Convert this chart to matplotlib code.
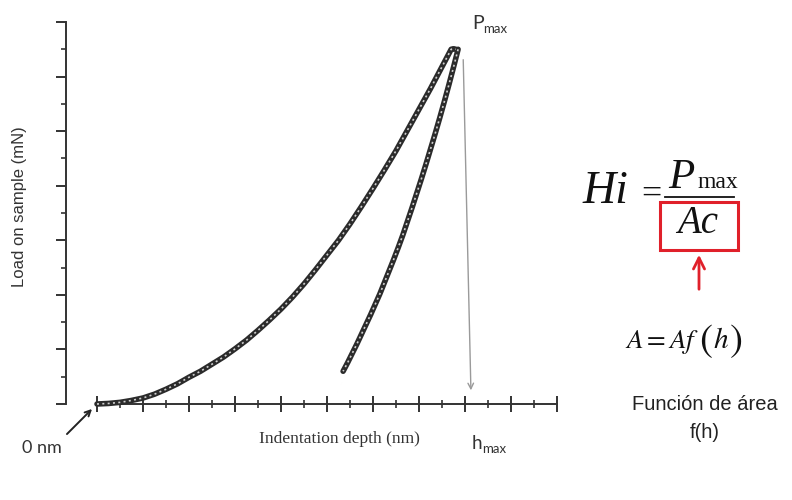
import matplotlib.pyplot as plt
import matplotlib.patches as mpatches
from matplotlib.lines import Line2D
import numpy as np

# curva de carga (profundidad, carga) - unidades de las divisiones del eje
carga_h = [0, 2.5, 5, 7.5, 10, 12.5, 15, 17.5, 20, 22.5, 25, 27.5, 30, 32.5, 35, 37.5,
           40, 42.5, 45, 47.5, 50, 52.5, 55, 57.5, 60, 62.5, 65, 67.5, 70, 72.5, 75, 77,
           77.5, 78.0]
carga_P = [0, 0.1, 0.3, 0.65, 1.1, 1.8, 2.7, 3.7, 4.9, 6.0, 7.3, 8.6, 10.1, 11.7, 13.5, 15.4,
           17.4, 19.6, 22.0, 24.6, 27.3, 30.0, 33.0, 36.2, 39.5, 42.9, 46.4, 50.2, 54.0, 57.8, 61.8, 65.0,
           65.1, 65.0]

# curva de descarga
descarga_h = [78.5, 77.5, 76.5, 75.5, 74.5, 73.5, 72.5, 71.5, 70.5, 69.5, 68.5, 67.5, 66.5,
              65.5, 64.5, 63.5, 62.5, 61.5, 60.5, 59.5, 58.5, 57.5, 56.5, 55.5, 54.5, 53.5]
descarga_P = [65.0, 61.7, 58.5, 55.4, 52.4, 49.5, 46.7, 43.9, 41.2, 38.6, 36.0, 33.5, 31.0,
              28.7, 26.5, 24.4, 22.3, 20.2, 18.3, 16.4, 14.6, 12.8, 11.0, 9.3, 7.6, 6.0]

h_max = 81.3
P_max = max(carga_P)

W, H = 792, 500
plt.rcParams['mathtext.fontset'] = 'stix'


def px(x, y):
    # pixeles -> fraccion de figura
    return x / W, 1 - y / H


fig = plt.figure(figsize=(W / 100, H / 100), dpi=100)
ax = fig.add_axes([66 / W, (H - 404) / H, (557 - 66) / W, (404 - 22) / H])
ax.set_xlim(-(97 - 66) / 4.6, 100)
ax.set_ylim(0, 70)

gris = '#333333'
for s in ['top', 'right']:
    ax.spines[s].set_visible(False)
ax.spines['left'].set_bounds(0, 70)
ax.spines['bottom'].set_bounds(0, 100)
for s in ['left', 'bottom']:
    ax.spines[s].set_linewidth(1.4)
    ax.spines[s].set_color(gris)

ax.set_xticks(np.arange(0, 101, 10))
ax.set_xticks(np.arange(5, 100, 10), minor=True)
ax.set_yticks(np.arange(0, 71, 10))
ax.set_yticks(np.arange(5, 70, 10), minor=True)
ax.set_xticklabels([])
ax.set_yticklabels([])
ax.tick_params(axis='x', which='major', direction='inout', length=11, width=1.4, color=gris)
ax.tick_params(axis='x', which='minor', direction='inout', length=6, width=1.2, color=gris)
ax.tick_params(axis='y', which='major', direction='out', length=7, width=1.4, color=gris)
ax.tick_params(axis='y', which='minor', direction='out', length=3.5, width=1.2, color=gris)

# cadena de marcadores: banda oscura con centros claros
for hh, pp in [(carga_h, carga_P), (descarga_h, descarga_P)]:
    ax.plot(hh, pp, color='#2b2b2b', lw=4.0, solid_capstyle='round', solid_joinstyle='round',
            clip_on=False, zorder=3)
    ax.plot(hh, pp, color='#cfcfcf', lw=1.2, dashes=(1.2, 2.0), clip_on=False, zorder=4)

# flecha gris hasta h_max
ax.annotate('', xy=(h_max, 2.0), xytext=(carga_h[-1] + 1.6, P_max - 1.5),
            arrowprops=dict(arrowstyle='->', color='#9a9a9a', lw=1.0))

# textos del grafico
fig.text(*px(20, 207), 'Load on sample (mN)', rotation=90, ha='center', va='center',
         fontsize=12, family='Liberation Sans', color=gris)
fig.text(*px(339, 439), 'Indentation depth (nm)', ha='center', va='center',
         fontsize=12.5, family='Liberation Serif', color=gris)
fig.text(*px(42, 448), '0 nm', ha='center', va='center', fontsize=13, family='Lato', color=gris)
fig.text(*px(472, 29), 'P', ha='left', va='baseline', fontsize=14, family='Lato', color=gris)
fig.text(*px(483, 33), 'max', ha='left', va='baseline', fontsize=9.5, family='Lato', color=gris)
fig.text(*px(472, 449), 'h', ha='left', va='baseline', fontsize=13.5, family='Lato', color=gris)
fig.text(*px(482, 453), 'max', ha='left', va='baseline', fontsize=9.5, family='Lato', color=gris)

ax.annotate('', xy=px(94, 407), xycoords='figure fraction', xytext=px(65, 436),
            textcoords='figure fraction',
            arrowprops=dict(arrowstyle='->', color='#222222', lw=1.4))

# formula de dureza
fig.text(*px(583, 203), 'Hi', ha='left', va='baseline', fontsize=33, family='Liberation Serif',
         style='italic', color='#111111')
fig.text(*px(651, 195), '=', ha='center', va='center', fontsize=26, family='Liberation Serif',
         color='#111111')
fig.text(*px(668, 188), 'P', ha='left', va='baseline', fontsize=31, family='Liberation Serif',
         style='italic', color='#111111')
fig.text(*px(697, 188), 'max', ha='left', va='baseline', fontsize=17, family='Liberation Serif',
         color='#111111')
fig.add_artist(Line2D([665 / W, 734 / W], [1 - 197 / H, 1 - 197 / H], color='#111111', lw=1.3))
fig.text(*px(698, 233), 'Ac', ha='center', va='baseline', fontsize=28, family='Liberation Serif',
         style='italic', color='#111111')
fig.add_artist(mpatches.Rectangle(px(660, 250), 78 / W, 48 / H, transform=fig.transFigure,
                                  fill=False, edgecolor='#e0202a', lw=2.2))
ax.annotate('', xy=px(699, 252), xycoords='figure fraction', xytext=px(699, 292),
            textcoords='figure fraction',
            arrowprops=dict(arrowstyle='->', color='#e0202a', lw=2.0, mutation_scale=20))

# funcion de area A = Af(h), con parentesis grandes
fig.text(*px(625, 348), r'$A = Af$', ha='left', va='baseline', fontsize=19.5, color='#111111')
fig.text(*px(699, 351), r'$($', ha='left', va='baseline', fontsize=28, color='#111111')
fig.text(*px(713, 348), r'$h$', ha='left', va='baseline', fontsize=21, color='#111111')
fig.text(*px(729, 351), r'$)$', ha='left', va='baseline', fontsize=28, color='#111111')
fig.text(*px(705, 405), 'Función de área', ha='center', va='center', fontsize=14.5,
         family='Liberation Sans', color='#222222')
fig.text(*px(705, 432), 'f(h)', ha='center', va='center', fontsize=14.5,
         family='Liberation Sans', color='#222222')

fig.savefig('out.png', dpi=100, facecolor='white')
